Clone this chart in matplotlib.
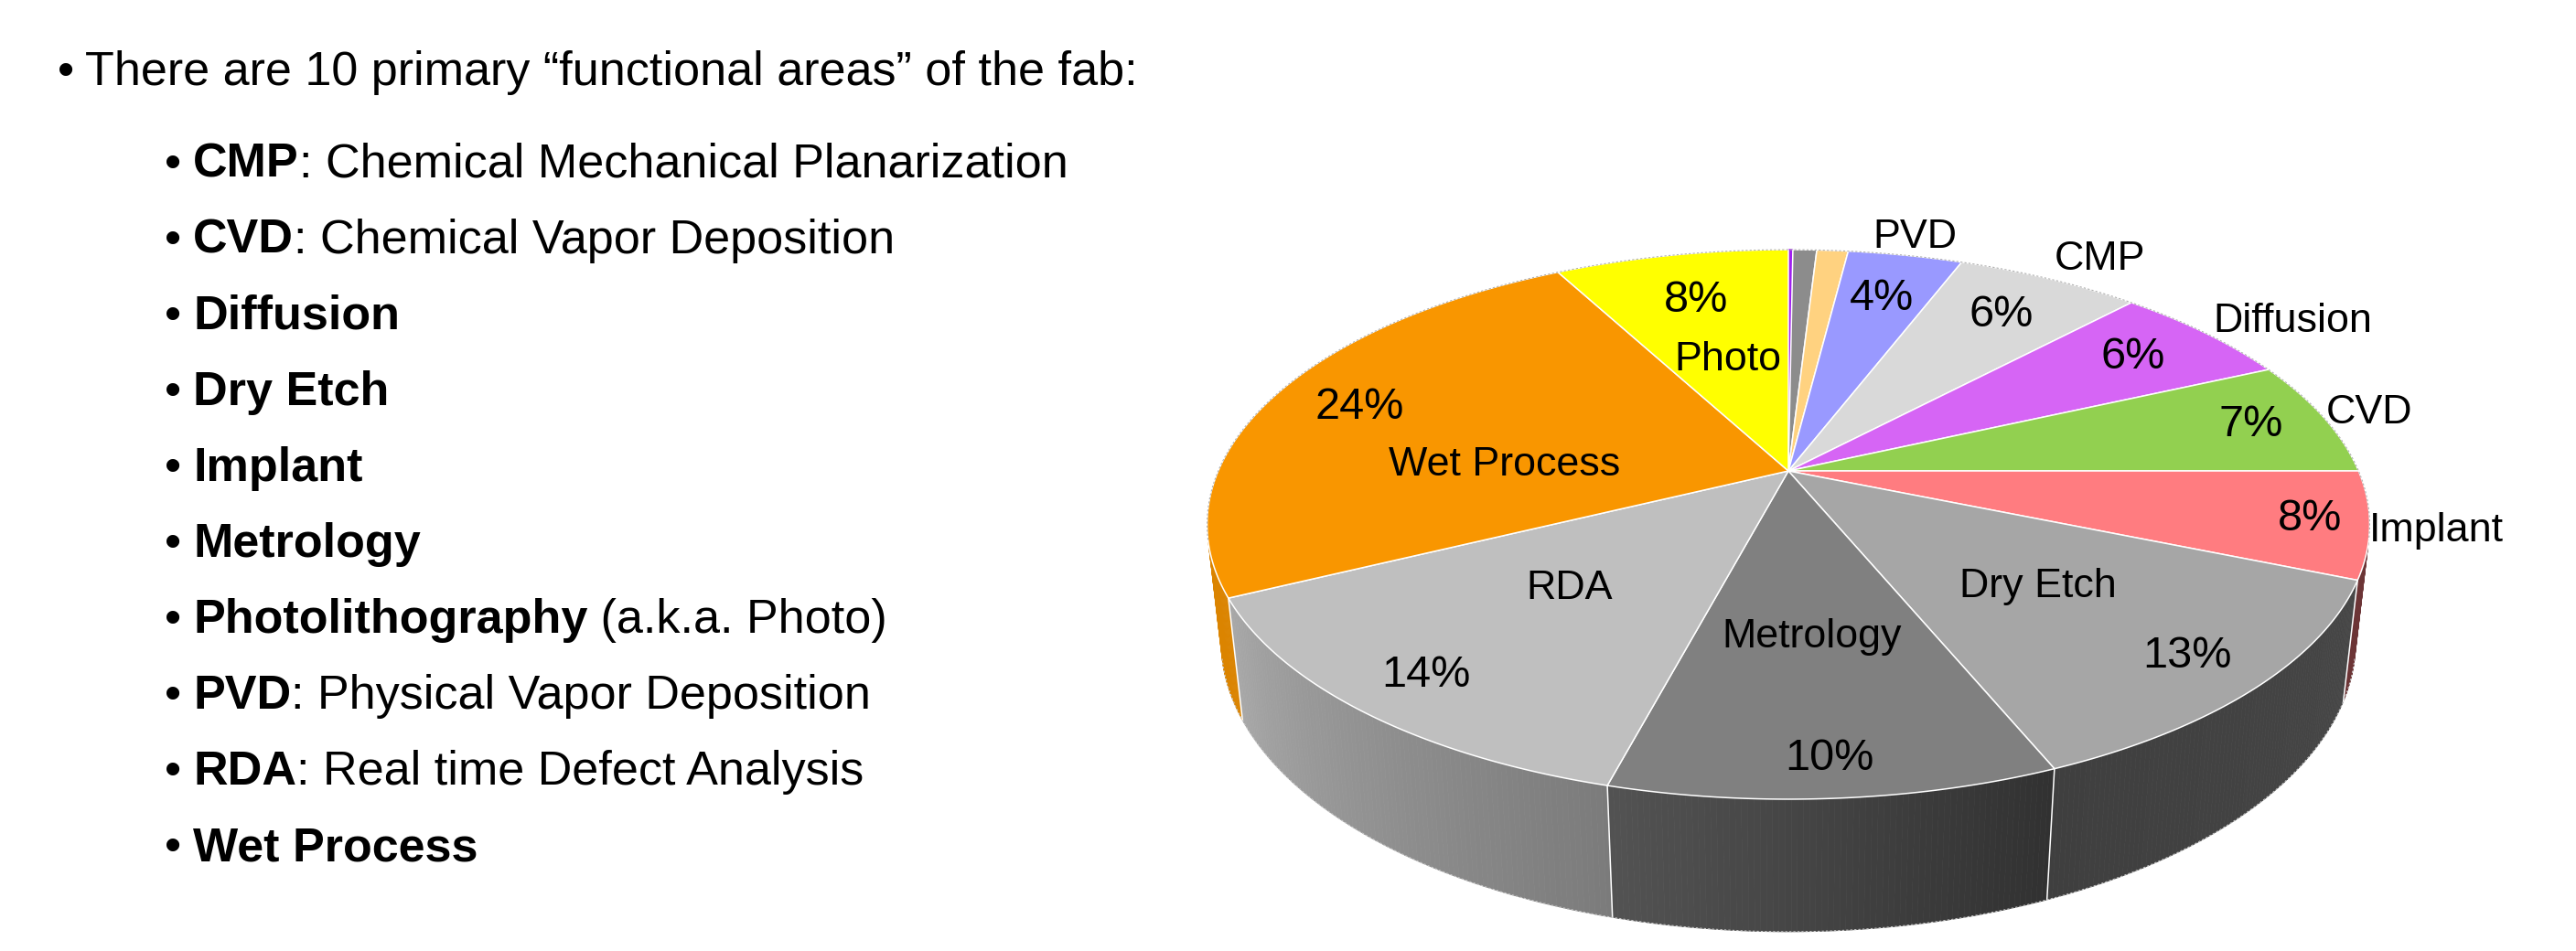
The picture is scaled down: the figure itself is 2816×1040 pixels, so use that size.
import numpy as np
import matplotlib.pyplot as plt
from matplotlib.patches import Polygon
from matplotlib.collections import PolyCollection
from matplotlib.colors import to_rgb

plt.rcParams['font.family'] = ['Liberation Sans', 'DejaVu Sans']

# slices clockwise from 12 o'clock, share of the circle (%) as drawn
areas = ['', '', '', 'PVD', 'CMP', 'Diffusion', 'CVD', 'Implant', 'Dry Etch',
         'Metrology', 'RDA', 'Wet Process', 'Photo']
shares = [0.15, 0.8, 1.05, 3.85, 6.2, 6.15, 6.8, 6.25, 12.5, 10.4, 13.6, 24.4, 7.85]
pct_labels = ['', '', '', '4%', '6%', '6%', '7%', '8%', '13%', '10%', '14%', '24%', '8%']
colors = ['#A020F0', '#8C8C8C', '#FFD280', '#9999FF', '#D9D9D9', '#D665F5', '#92D050',
          '#FF7C80', '#A6A6A6', '#808080', '#BFBFBF', '#F99600', '#FFFF00']

# bullet list on the left
terms = ['CMP', 'CVD', 'Diffusion', 'Dry Etch', 'Implant', 'Metrology',
         'Photolithography', 'PVD', 'RDA', 'Wet Process']
meanings = [': Chemical Mechanical Planarization', ': Chemical Vapor Deposition',
            '', '', '', '', ' (a.k.a. Photo)', ': Physical Vapor Deposition',
            ': Real time Defect Analysis', '']

# where the labels sit on the pie (radius, angle nudge in degrees)
pct_r = [0, 0, 0, 0.77, 0.79, 0.81, 0.86, 0.90, 0.87, 0.90, 0.87, 0.83, 0.76]
name_r = [0, 0, 0, 1.10, 1.15, 1.18, 1.09, 1.11, 0.57, 0.56, 0.54, 0.50, 0.47]
name_dphi = [0, 0, 0, 0, 2, 3, 0, 0, 0, 0, 1.5, -15.3, 0]

W, H = 2816, 1040
fig = plt.figure(figsize=(W / 100, H / 100), dpi=100)

# pie axes, units = pixels around the pie centre
cx, cy = 1955, 515
ax = fig.add_axes([0, 0, 1, 1])
ax.set_xlim(-cx, W - cx)
ax.set_ylim(-(H - cy), cy)
ax.axis('off')

# simple perspective camera
F = 2836.0
sin_e, cos_e = 0.4638, 0.886
dist = 4.55
thick = 0.233


def proj(phi, r=1.0, z=0.0):
    p = np.radians(phi)
    x = r * np.sin(p)
    y = r * np.cos(p)
    depth = dist + y * cos_e - z * sin_e
    return F * x / depth, F * (y * sin_e + z * cos_e) / depth


edges = np.concatenate([[0], np.cumsum(shares)]) / np.sum(shares) * 360
mids = (edges[:-1] + edges[1:]) / 2

vis0 = np.degrees(np.arccos(-1 / (dist * cos_e)))
vis1 = 360 - vis0

# side wall, shaded
shade_phi = [vis0, 157, 194, 244, vis1]
shade_k = [0.43, 0.38, 0.64, 0.88, 0.88]
quads, qcols = [], []
for a0, a1, col in zip(edges[:-1], edges[1:], colors):
    lo, hi = max(a0, vis0), min(a1, vis1)
    if hi <= lo:
        continue
    ph = np.linspace(lo, hi, max(2, int((hi - lo) / 0.5) + 1))
    rgb = np.array(to_rgb(col))
    for p0, p1 in zip(ph[:-1], ph[1:]):
        quads.append([proj(p0), proj(p1), proj(p1, z=-thick), proj(p0, z=-thick)])
        k = np.interp((p0 + p1) / 2, shade_phi, shade_k)
        qcols.append(np.clip(rgb * k, 0, 1))
ax.add_collection(PolyCollection(quads, facecolors=qcols, edgecolors=qcols, linewidths=0.5))

for e in edges:
    if vis0 < e < vis1:
        xt, yt = proj(e)
        xb, yb = proj(e, z=-thick)
        ax.plot([xt, xb], [yt, yb], color='white', lw=1.1)

ph = np.linspace(vis0, vis1, 300)
bot = np.array([proj(p, z=-thick) for p in ph])
ax.plot(bot[:, 0], bot[:, 1], color='#C8C8C8', lw=0.8, ls=(0, (2, 2)))

# top face
for i, (a0, a1, col) in enumerate(zip(edges[:-1], edges[1:], colors)):
    ph = np.linspace(a0, a1, max(2, int((a1 - a0) / 0.5) + 2))
    pts = [(0, 0)] + [proj(p) for p in ph]
    ec = col if i == 0 else 'white'
    ax.add_patch(Polygon(pts, closed=True, fc=col, ec=ec, lw=1.1, joinstyle='round'))

ph = np.linspace(vis1 - 360, vis0, 300)
back = np.array([proj(p) for p in ph])
ax.plot(back[:, 0], back[:, 1], color='#B0B0B0', lw=0.8, ls=(0, (2, 2)))

# labels
for i in range(len(shares)):
    if pct_labels[i]:
        x, y = proj(mids[i], pct_r[i])
        ax.text(x, y, pct_labels[i], fontsize=35, ha='center', va='center')
    if areas[i]:
        x, y = proj(mids[i] + name_dphi[i], name_r[i])
        ax.text(x, y, areas[i], fontsize=32.3, ha='center', va='center')

# bullet text
fs = 37.5
fig.text(63 / W, 1 - 93 / H, '•', fontsize=fs, va='baseline')
fig.text(93 / W, 1 - 93 / H, 'There are 10 primary “functional areas” of the fab:',
         fontsize=fs, va='baseline')
renderer = fig.canvas.get_renderer()
for i, (term, rest) in enumerate(zip(terms, meanings)):
    yb = 1 - (194 + 83 * i) / H
    fig.text(180 / W, yb, '•', fontsize=fs, va='baseline')
    t = fig.text(211 / W, yb, term, fontsize=fs, weight='bold', va='baseline')
    if rest:
        bb = t.get_window_extent(renderer)
        fig.text(bb.x1 / W, yb, rest, fontsize=fs, va='baseline')

fig.savefig('out.png', dpi=100)
